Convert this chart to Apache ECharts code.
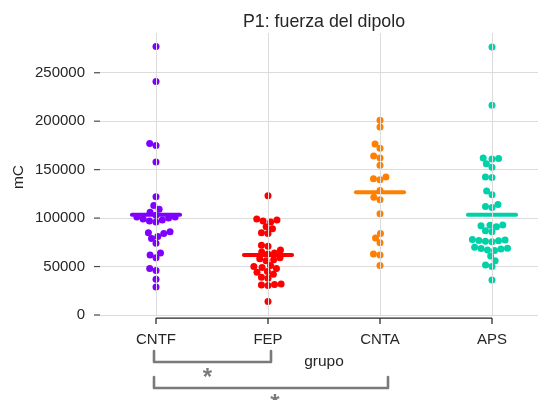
<!DOCTYPE html>
<html>
<head>
<meta charset="utf-8">
<script src="https://cdn.jsdelivr.net/npm/echarts@6/dist/echarts.min.js"></script>
<style>
  html, body { margin: 0; padding: 0; background: #fff; }
  #chart { width: 538px; height: 400px; }
</style>
</head>
<body>
<div id="chart"></div>
<script>
// Groups and their colours
const groups = ['CNTF', 'FEP', 'CNTA', 'APS'];
const groupColors = ['#7f00ff', '#ff0000', '#ff7f00', '#00d1a8'];

// Dipole strength per subject (mC)
const cntf = [277000, 241000, 177000, 175000, 158000, 122000, 113000, 109000, 106000, 103000,
  101000, 101000, 100000, 99000, 98000, 97000, 96000, 86000, 85000, 84000,
  81000, 79000, 74000, 64000, 62000, 59000, 48000, 46000, 37000, 29000];
const fep = [123000, 99000, 98000, 97000, 96000, 91000, 89000, 85000, 84000, 72000,
  71000, 67000, 65000, 64000, 63000, 59000, 58000, 57000, 56000, 51000,
  50000, 49000, 48000, 45000, 44000, 42000, 39000, 38000, 32000, 31500,
  31000, 30500, 14000];
const cnta = [201000, 194000, 176500, 172000, 164000, 162000, 154500, 140500, 139500, 142500,
  128500, 121500, 119000, 104500, 84000, 79500, 74500, 63000, 62000, 51000];
const aps = [276500, 216500, 162000, 161500, 161000, 156000, 152500, 142500, 142000, 128000,
  124000, 114000, 112000, 111000, 93000, 92500, 92000, 91000, 87000, 86000,
  78000, 77500, 77000, 76500, 76000, 75500, 70000, 69000, 68500, 68000,
  67000, 66500, 61000, 56000, 51500, 50000, 36000];

const yTicks = [0, 50000, 100000, 150000, 200000, 250000];
const yMax = 291000;

// Pairwise comparisons marked as significant: [groupA, groupB, mark]
const comparisons = [[0, 1, '*'], [0, 2, '*']];

const values = [cntf, fep, cnta, aps];
const TEXT = '#262626';
const TICK = '#4a4a4a';
const GRID = '#dcdcdc';
const BRACKET = '#7a7a7a';
const FONT = 'Liberation Sans';
const DOT = 7;          // dot diameter, px
const SPACING = 6.6;    // min distance between dot centres, px
const MEAN_HALF = 0.215;

// Plot area: each group gets a 112 px band; the last band runs past the right edge
const GRID_LEFT = 100, GRID_TOP = 33, GRID_H = 282, BAND = 112, W = 538;
const xMin = -0.5;
const xMax = xMin + (W - GRID_LEFT) / BAND;

const chart = echarts.init(document.getElementById('chart'), null, { renderer: 'canvas' });
const mean = arr => arr.reduce((a, b) => a + b, 0) / arr.length;

chart.setOption({
  animation: false,
  title: {
    text: 'P1: fuerza del dipolo',
    left: 319, top: 8, textAlign: 'center',
    textStyle: { fontFamily: FONT, fontSize: 17.8, fontWeight: 'normal', color: TEXT }
  },
  grid: { left: GRID_LEFT, top: GRID_TOP, right: 0, height: GRID_H, containLabel: false },
  xAxis: {
    type: 'value', min: xMin, max: xMax, offset: 3,
    axisLine: { show: false },
    axisTick: { show: false },
    splitLine: { show: false },
    axisLabel: {
      margin: 14, customValues: groups.map((g, i) => i),
      formatter: v => groups[Math.round(v)] || '',
      fontFamily: FONT, fontSize: 15, color: TEXT
    }
  },
  yAxis: {
    type: 'value', min: 0, max: yMax, interval: 50000,
    axisLine: { show: false },
    axisTick: { show: false },
    axisLabel: {
      margin: 15, customValues: yTicks, formatter: v => String(v),
      fontFamily: FONT, fontSize: 15, color: TEXT
    },
    splitLine: { show: true, showMaxLine: false, lineStyle: { color: GRID, width: 1 } }
  },
  series: []
});

// Beeswarm: place points from lowest to highest, each at the free spot nearest the centre
function swarm(ys, d) {
  const order = ys.map((y, i) => i).sort((a, b) => ys[b] - ys[a]);
  const placed = [];
  const out = new Array(ys.length);
  for (const i of order) {
    const y = ys[i];
    const near = placed.filter(p => Math.abs(p.y - y) < d);
    const cands = [0];
    near.forEach(p => {
      const dx = Math.sqrt(d * d - (p.y - y) * (p.y - y));
      cands.push(p.x - dx, p.x + dx);
    });
    cands.sort((a, b) => Math.abs(a) - Math.abs(b) || a - b);
    const x = cands.find(c => near.every(p => (p.x - c) ** 2 + (p.y - y) ** 2 >= d * d - 1e-6));
    placed.push({ x, y });
    out[i] = x;
  }
  return out;
}

const px = v => chart.convertToPixel({ xAxisIndex: 0 }, v);
const py = v => chart.convertToPixel({ yAxisIndex: 0 }, v);
const unit = px(1) - px(0);

const series = [];

// Vertical grid lines at each group centre
series.push({
  type: 'line', data: [], silent: true, z: 1,
  markLine: {
    silent: true, symbol: 'none', label: { show: false },
    lineStyle: { color: GRID, width: 1, type: 'solid' },
    data: groups.map((g, i) => ({ xAxis: i }))
  }
});

values.forEach((arr, i) => {
  const offs = swarm(arr.map(py), SPACING);
  series.push({
    type: 'scatter', symbolSize: DOT, z: 3,
    itemStyle: { color: groupColors[i], opacity: 1 },
    data: arr.map((v, k) => [i + offs[k] / unit, v])
  });
  const m = mean(arr);
  series.push({
    type: 'line', symbol: 'none', z: 4,
    lineStyle: { color: groupColors[i], width: 4, cap: 'round' },
    data: [[i - MEAN_HALF, m], [i + MEAN_HALF, m]]
  });
});

const y0 = py(0);
const graphics = [];

// y ticks
yTicks.forEach(v => {
  graphics.push({
    type: 'line', z: 10,
    shape: { x1: GRID_LEFT - 6, y1: py(v), x2: GRID_LEFT, y2: py(v) },
    style: { stroke: TICK, lineWidth: 1.2 }
  });
});

// y axis title, rotated, centred on the plot height
graphics.push({
  type: 'text', z: 10,
  x: 19, y: (py(0) + py(yMax)) / 2 + 3, rotation: Math.PI / 2,
  style: {
    x: 0, y: 0, text: 'mC', textAlign: 'center', textVerticalAlign: 'middle',
    fontFamily: FONT, fontSize: 15.5, fill: TEXT
  }
});

// Bottom spine from the first to the last group, with a tick under each group
graphics.push({
  type: 'line', z: 10,
  shape: { x1: px(0), y1: y0 + 3, x2: px(groups.length - 1), y2: y0 + 3 },
  style: { stroke: TEXT, lineWidth: 1.25 }
});
groups.forEach((g, i) => {
  graphics.push({
    type: 'line', z: 10,
    shape: { x1: px(i), y1: y0 + 3, x2: px(i), y2: y0 + 9 },
    style: { stroke: TEXT, lineWidth: 1.25 }
  });
});

// x axis title, centred on the plot area
graphics.push({
  type: 'text', z: 10,
  style: {
    x: (px(-0.5) + px(3.5)) / 2, y: y0 + 47, text: 'grupo',
    textAlign: 'center', textVerticalAlign: 'middle',
    fontFamily: FONT, fontSize: 15.5, fill: TEXT
  }
});

// Significance brackets
comparisons.forEach((c, k) => {
  const top = y0 + 36 + k * 26;
  const bot = top + 11;
  const xa = px(c[0]) - 2;
  const xb = px(c[1]) + 3 + k * 5;
  graphics.push({
    type: 'polyline', z: 10,
    shape: { points: [[xa, top], [xa, bot], [xb, bot], [xb, top]] },
    style: { stroke: BRACKET, lineWidth: 2.6, fill: null, lineJoin: 'round', lineCap: 'round' }
  });
  graphics.push({
    type: 'text', z: 10,
    style: {
      x: (xa + xb) / 2 + (k === 0 ? -5 : 4), y: bot + 4, text: c[2],
      textAlign: 'center', textVerticalAlign: 'top',
      fontFamily: FONT, fontSize: 24, fontWeight: 'bold', fill: BRACKET
    }
  });
});

chart.setOption({ series: series, graphic: graphics });
</script>
</body>
</html>
